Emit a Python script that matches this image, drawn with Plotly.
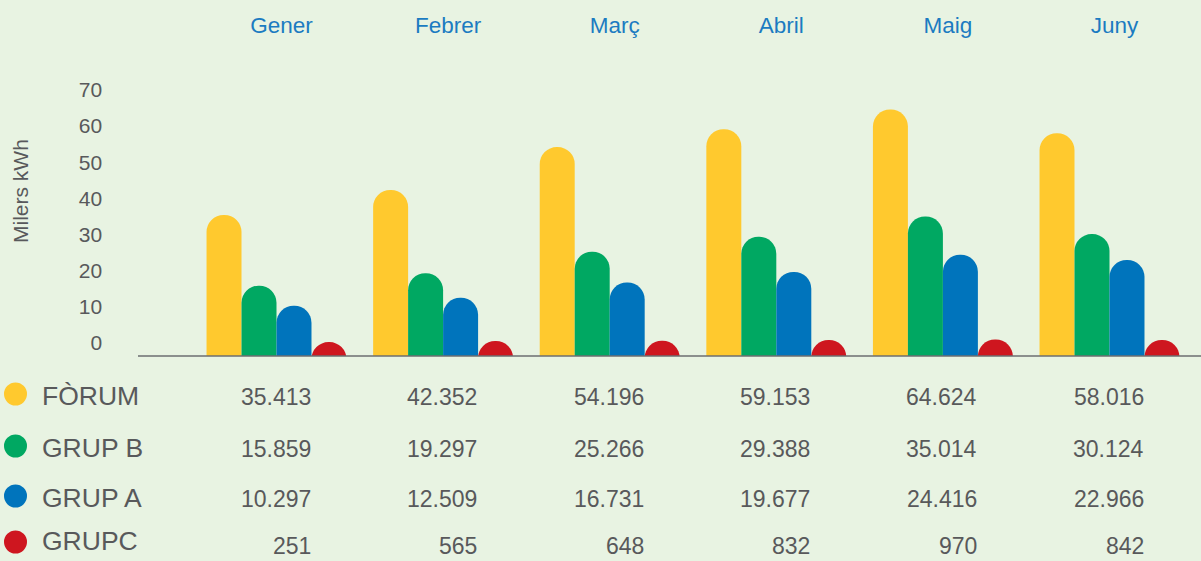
import plotly.graph_objects as go

# ---- data ----
months = ["Gener", "Febrer", "Març", "Abril", "Maig", "Juny"]
series_names = ["FÒRUM", "GRUP B", "GRUP A", "GRUPC"]
forum = [35413, 42352, 54196, 59153, 64624, 58016]
grup_b = [15859, 19297, 25266, 29388, 35014, 30124]
grup_a = [10297, 12509, 16731, 19677, 24416, 22966]
grup_c = [251, 565, 648, 832, 970, 842]
y_ticks = [0, 10, 20, 30, 40, 50, 60, 70]
y_title = "Milers kWh"

series_values = [forum, grup_b, grup_a, grup_c]
colors = ["#FFC92E", "#00A862", "#0074BC", "#CE161F"]

# ---- geometry (pixels of the 1201x561 page) ----
W, H = 1201, 561
PX_PER_UNIT = (343 - 90) / 70.0       # axis scale
ZERO_PX = 343                          # pixel row of value 0
BASE_PX = 356                          # baseline row
TOP_PX = 38
pad = (BASE_PX - ZERO_PX) / PX_PER_UNIT
extra = 22 / PX_PER_UNIT               # hidden foot below baseline (clipped)
y_top = (ZERO_PX - TOP_PX) / PX_PER_UNIT

def py(px):
    return 1 - px / H

def fmt(v):
    return f"{v:,}".replace(",", ".")

FONT = "Liberation Sans, Arial, sans-serif"
GREY = "#58595B"

fig = go.Figure()
for name, vals, col in zip(series_names, series_values, colors):
    fig.add_trace(go.Bar(
        x=months,
        y=[v / 1000 + pad + extra for v in vals],
        base=-pad - extra,
        name=name,
        marker=dict(color=col, cornerradius="50%", line=dict(width=0)),
        cliponaxis=True,
        showlegend=False,
        hoverinfo="skip",
    ))

annotations = []
shapes = []
name_rows = [396, 448, 498, 541]
value_rows = [397.5, 448.5, 498.5, 546]
dot_rows = [394, 446, 496, 542]
for i, (name, vals, col) in enumerate(zip(series_names, series_values, colors)):
    annotations.append(dict(
        x=40 / W, y=py(name_rows[i]), xref="paper", yref="paper",
        text=name, showarrow=False, xanchor="left", yanchor="middle",
        font=dict(family=FONT, size=26.5, color=GREY),
    ))
    for m, v in zip(months, vals):
        annotations.append(dict(
            x=m, y=py(value_rows[i]), xref="x", yref="paper",
            text=fmt(v), showarrow=False, xanchor="right", yanchor="middle",
            xshift=36,
            font=dict(family=FONT, size=23, color=GREY),
        ))
    r = 11.5
    shapes.append(dict(
        type="circle", xref="paper", yref="paper",
        x0=(15.5 - r) / W, x1=(15.5 + r) / W,
        y0=py(dot_rows[i] + r), y1=py(dot_rows[i] - r),
        fillcolor=col, line=dict(width=0),
    ))

annotations.append(dict(
    x=20 / W, y=py(191), xref="paper", yref="paper", text=y_title,
    textangle=-90, showarrow=False, xanchor="center", yanchor="middle",
    font=dict(family=FONT, size=21, color=GREY),
))

shapes.append(dict(
    type="line", xref="paper", yref="paper",
    x0=138 / W, x1=1.0, y0=py(BASE_PX), y1=py(BASE_PX),
    line=dict(color="#6D6E71", width=1.5),
))

fig.update_layout(
    width=W, height=H,
    margin=dict(l=0, r=0, t=0, b=0),
    paper_bgcolor="#E8F3E2",
    plot_bgcolor="#E8F3E2",
    barmode="group",
    bargap=0.16,
    bargroupgap=0,
    annotations=annotations,
    shapes=shapes,
    xaxis=dict(
        domain=[193.2 / W, 1192.8 / W],
        side="top",
        showgrid=False, zeroline=False, showline=False, ticks="",
        ticklabelshift=5,
        tickfont=dict(family=FONT, size=22.5, color="#1B7BC1"),
        fixedrange=True,
    ),
    yaxis=dict(
        domain=[py(BASE_PX), py(TOP_PX)],
        range=[-pad, y_top],
        tickvals=y_ticks,
        showgrid=False, zeroline=False, showline=False, ticks="",
        ticklabelstandoff=90,
        tickfont=dict(family=FONT, size=21, color=GREY),
        fixedrange=True,
    ),
)

fig.write_html(
    "out.html",
    config={"displayModeBar": False},
    post_script="document.body.style.margin='0px';document.body.style.overflow='hidden';",
)
